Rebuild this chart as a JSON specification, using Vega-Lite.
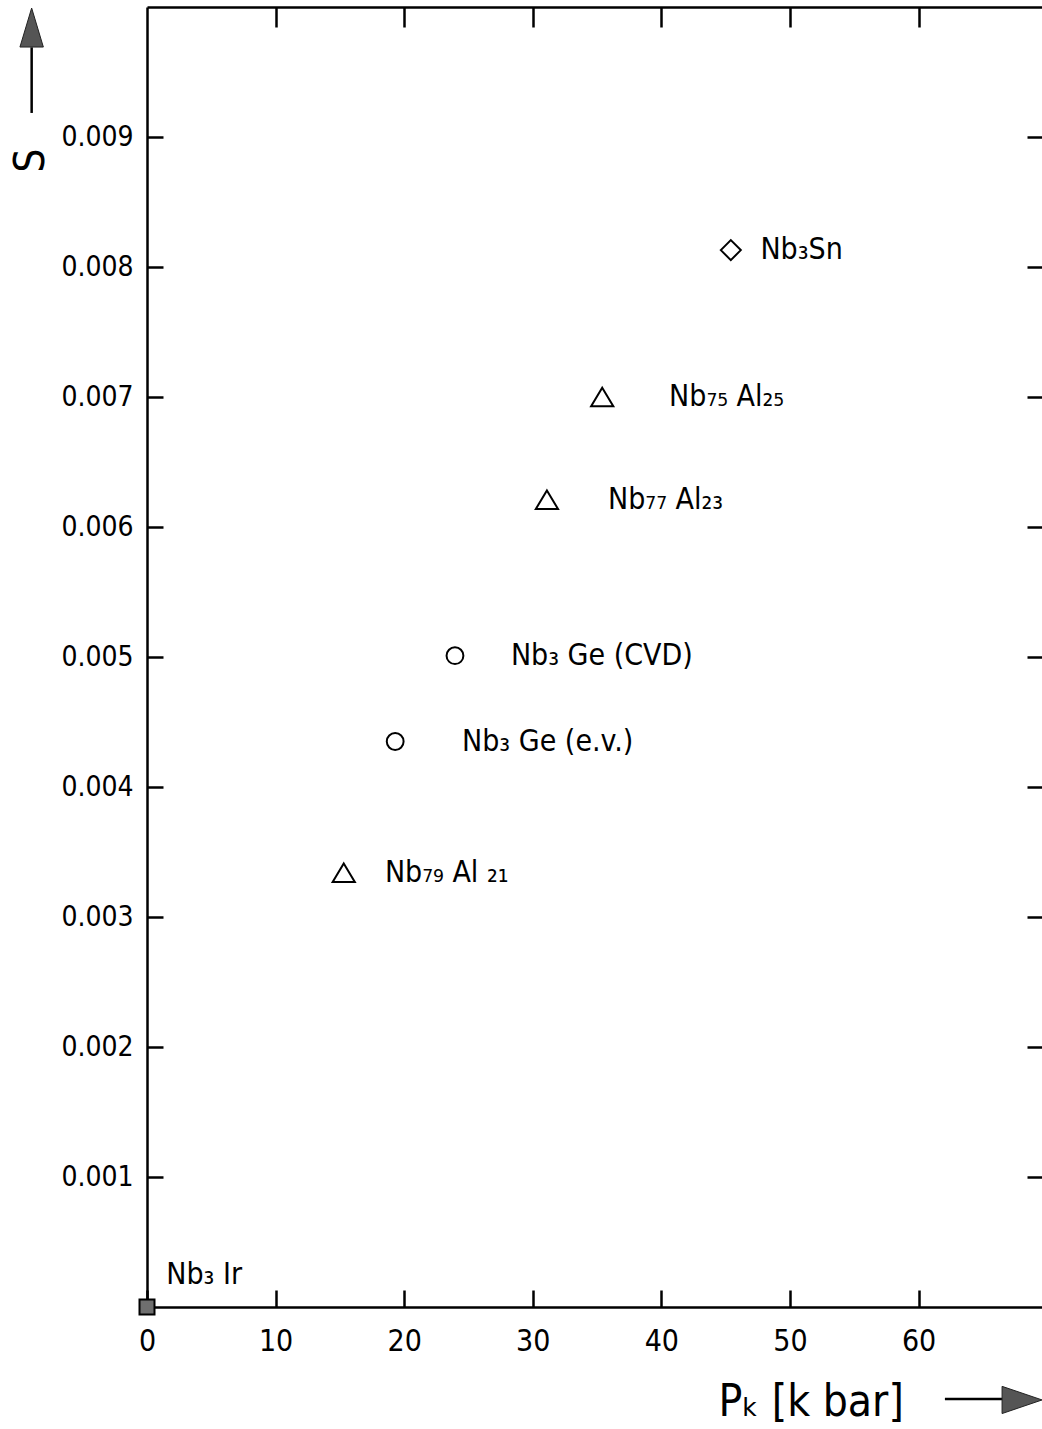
{
  "$schema": "https://vega.github.io/schema/vega-lite/v6.json",
  "width": 895,
  "height": 1300,
  "autosize": {"type": "none"},
  "padding": {"left": 147, "top": 7, "right": 0, "bottom": 122},
  "background": "white",
  "config": {
    "view": {"stroke": null},
    "font": "DejaVu Sans Condensed",
    "axis": {
      "grid": false,
      "domainColor": "black",
      "domainWidth": 2.5,
      "tickColor": "black",
      "tickWidth": 2.5,
      "labelColor": "black",
      "titleColor": "black",
      "labelFont": "DejaVu Sans Condensed",
      "titleFont": "DejaVu Sans Condensed",
      "titleFontWeight": "normal",
      "labelFlush": false
    }
  },
  "datasets": {
    "compounds": [
      {"compound": "Nb₃Sn", "family": "Nb₃Sn", "P_K": 45.4, "S": 0.00813, "label_P": 47.7, "label_S": 0.00813},
      {"compound": "Nb₇₅ Al₂₅", "family": "Nb–Al", "P_K": 35.4, "S": 0.0070, "label_P": 40.6, "label_S": 0.0070},
      {"compound": "Nb₇₇ Al₂₃", "family": "Nb–Al", "P_K": 31.1, "S": 0.00621, "label_P": 35.85, "label_S": 0.00621},
      {"compound": "Nb₃ Ge (CVD)", "family": "Nb₃Ge", "P_K": 23.95, "S": 0.00501, "label_P": 28.3, "label_S": 0.00501},
      {"compound": "Nb₃ Ge (e.v.)", "family": "Nb₃Ge", "P_K": 19.3, "S": 0.00435, "label_P": 24.5, "label_S": 0.00435},
      {"compound": "Nb₇₉ Al ₂₁", "family": "Nb–Al", "P_K": 15.3, "S": 0.00334, "label_P": 18.5, "label_S": 0.00334},
      {"compound": "Nb₃ Ir", "family": "Nb₃Ir", "P_K": 0, "S": 0, "label_P": 1.5, "label_S": 0.00025}
    ],
    "anchor": [{}]
  },
  "resolve": {"axis": {"x": "independent", "y": "independent"}},
  "layer": [
    {
      "data": {"name": "compounds"},
      "mark": {"type": "point", "stroke": "black", "strokeWidth": 2, "opacity": 1, "clip": false},
      "encoding": {
        "x": {
          "field": "P_K", "type": "quantitative",
          "scale": {"domain": [0, 69.6], "nice": false, "zero": false},
          "axis": {
            "orient": "bottom",
            "values": [0, 10, 20, 30, 40, 50, 60],
            "tickSize": -17,
            "labelPadding": 36,
            "labelFontSize": 30,
            "title": "Pₖ [k bar]",
            "titleFontSize": 44,
            "titleAlign": "left",
            "titleAnchor": "start",
            "titleBaseline": "alphabetic",
            "titleX": 571,
            "titleY": 108
          }
        },
        "y": {
          "field": "S", "type": "quantitative",
          "scale": {"domain": [0, 0.01], "nice": false, "zero": false},
          "axis": {
            "orient": "left",
            "values": [0.001, 0.002, 0.003, 0.004, 0.005, 0.006, 0.007, 0.008, 0.009],
            "format": ".3f",
            "tickSize": -16,
            "labelPadding": 30,
            "labelFontSize": 28,
            "title": "S",
            "titleFontSize": 42,
            "titleAngle": -90,
            "titleAlign": "center",
            "titleBaseline": "alphabetic",
            "titleX": -104,
            "titleY": 153
          }
        },
        "shape": {
          "field": "family", "type": "nominal", "legend": null,
          "scale": {"domain": ["Nb₃Sn", "Nb–Al", "Nb₃Ge", "Nb₃Ir"], "range": ["diamond", "M0,-1L1.2,1L-1.2,1Z", "circle", "square"]}
        },
        "fill": {
          "field": "family", "type": "nominal", "legend": null,
          "scale": {"domain": ["Nb₃Sn", "Nb–Al", "Nb₃Ge", "Nb₃Ir"], "range": ["rgba(255,255,255,0)", "rgba(255,255,255,0)", "rgba(255,255,255,0)", "#6f6f6f"]}
        },
        "size": {
          "field": "family", "type": "nominal", "legend": null,
          "scale": {"domain": ["Nb₃Sn", "Nb–Al", "Nb₃Ge", "Nb₃Ir"], "range": [400, 225, 225, 289]}
        }
      }
    },
    {
      "data": {"name": "compounds"},
      "mark": {"type": "text", "align": "left", "baseline": "middle", "fontSize": 30, "font": "DejaVu Sans Condensed", "color": "black", "clip": false},
      "encoding": {
        "x": {
          "field": "label_P", "type": "quantitative",
          "axis": {"orient": "top", "values": [10, 20, 30, 40, 50, 60], "tickSize": -20, "labels": false, "title": null}
        },
        "y": {
          "field": "label_S", "type": "quantitative",
          "axis": {"orient": "right", "values": [0.001, 0.002, 0.003, 0.004, 0.005, 0.006, 0.007, 0.008, 0.009], "tickSize": -15, "labels": false, "domain": false, "title": null}
        },
        "text": {"field": "compound", "type": "nominal"}
      }
    },
    {
      "data": {"name": "anchor"},
      "mark": {"type": "rule", "stroke": "black", "strokeWidth": 2.5, "clip": false},
      "encoding": {
        "x": {"datum": 62.05, "type": "quantitative", "axis": null},
        "x2": {"datum": 67.0},
        "y": {"datum": -0.000708, "type": "quantitative", "axis": null}
      }
    },
    {
      "data": {"name": "anchor"},
      "mark": {"type": "rule", "stroke": "black", "strokeWidth": 2.5, "clip": false},
      "encoding": {
        "x": {"datum": -8.97, "type": "quantitative", "axis": null},
        "y": {"datum": 0.009185, "type": "quantitative", "axis": null},
        "y2": {"datum": 0.00969}
      }
    },
    {
      "data": {"name": "anchor"},
      "mark": {"type": "point", "shape": "M1,0L-1,-0.68L-1,0.68Z", "filled": true, "fill": "#555555", "stroke": "#222222", "strokeWidth": 1, "size": 1600, "opacity": 1, "clip": false},
      "encoding": {
        "x": {"datum": 68.05, "type": "quantitative", "axis": null},
        "y": {"datum": -0.000715, "type": "quantitative", "axis": null}
      }
    },
    {
      "data": {"name": "anchor"},
      "mark": {"type": "point", "shape": "M0,-1L0.6,1L-0.6,1Z", "filled": true, "fill": "#555555", "stroke": "#222222", "strokeWidth": 1, "size": 1521, "opacity": 1, "clip": false},
      "encoding": {
        "x": {"datum": -8.97, "type": "quantitative", "axis": null},
        "y": {"datum": 0.009842, "type": "quantitative", "axis": null}
      }
    }
  ]
}
